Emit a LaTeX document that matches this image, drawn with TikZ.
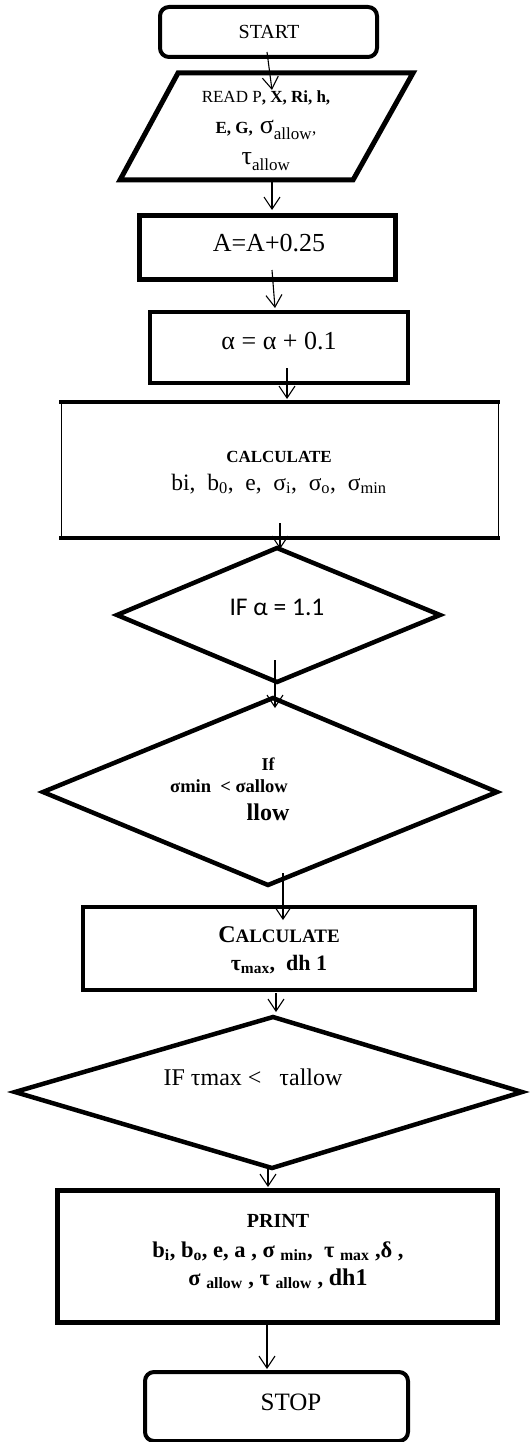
\documentclass[tikz,border=0pt]{standalone}
\usepackage{fontspec}
\setmainfont{Liberation Serif}
\newfontfamily\calibrifont{Carlito}
\usetikzlibrary{arrows.meta}
\newcommand{\fs}[1]{\fontsize{#1}{#1}\selectfont}
\begin{document}
\begin{tikzpicture}[x=1pt,y=-1pt,
  boxline/.style={line width=4.5pt, line join=miter},
  conn/.style={line width=1.1pt, -{Straight Barb[length=12pt,width=16pt,line width=1.1pt]}},
  txt/.style={inner sep=0pt, anchor=base, align=center}]
\useasboundingbox (0,0) rectangle (530,1442);
% shapes
\draw[line width=4pt, rounded corners=9pt] (160,7) rectangle (377,57);
\draw[boxline, line width=5pt] (178,73) -- (413,73) -- (353,180) -- (120,180) -- cycle;
\draw[boxline, line width=5pt] (139,215) rectangle (395,279);
\draw[boxline] (150,312) rectangle (408,383);
\draw[line width=1pt] (61,402) -- (61,538) (498,402) -- (498,538);
\draw[line width=4pt] (59,402) -- (500,402) (59,538) -- (500,538);
\draw[boxline] (277,548) -- (440,615) -- (277,682) -- (117,615) -- cycle;
\draw[boxline] (273,698) -- (497,792) -- (268,885) -- (43,792) -- cycle;
\draw[boxline, line width=4pt] (83,907) rectangle (475,990);
\draw[boxline] (273,1017) -- (522,1092) -- (272,1168) -- (15,1092) -- cycle;
\draw[boxline, line width=5pt] (57,1190) rectangle (497,1322);
\draw[line width=4pt, rounded corners=9pt] (145,1372) rectangle (408,1441);
% texts
\node[txt, font=\fs{20}] (tstart) at (269,39) {START};
\node[txt, font=\fs{17}] (tread1) at (266,103) {READ P\textbf{, X, Ri, h,}};
\node[txt, font=\fs{17}] (tread2) at (266,134) {\textbf{E, G,}\, {\fs{26}σ}\textsubscript{\fs{17}allow},};
\node[txt, font=\fs{17}] (tread3) at (266,165) {{\fs{26}τ}\textsubscript{\fs{17}allow}};
\node[txt, font=\fs{26}] (tA) at (269,251) {A=A+0.25};
\node[txt, font=\fs{26}] (talpha) at (279,349) {α = α + 0.1};
\node[txt, font=\fs{17}\bfseries] (tcalc1a) at (279,462) {CALCULATE};
\node[txt, font=\fs{23.5}] (tcalc1b) at (279,490) {bi,\ \ b\textsubscript{0},\ \ e,\ \ σ\textsubscript{i},\ \ σ\textsubscript{o},\ \ σ\textsubscript{min}};
\node[txt, font=\calibrifont\fs{25.5}] (tif1) at (277,615) {IF α = 1.1};
\node[txt, font=\fs{18}\bfseries] (tif2a) at (268,770) {If};
\node[txt, font=\fs{18.5}\bfseries] (tif2b) at (229,792) {σmin\ \ < σallow};
\node[txt, font=\fs{24}\bfseries] (tif2c) at (268,820) {llow};
\node[txt, font=\bfseries] (tcalc2a) at (279,942) {{\fs{24}C}{\fs{19}ALCULATE}};
\node[txt, font=\fs{22}\bfseries] (tcalc2b) at (279,970) {τ\textsubscript{max},\ \ dh 1};
\node[txt, font=\fs{24}] (tif3) at (253,1085) {IF τmax <\ \ \ τallow};
\node[txt, font=\fs{20}\bfseries] (tprint1) at (278,1227) {PRINT};
\node[txt, font=\fs{22.5}\bfseries] (tprint2) at (278,1257) {b\textsubscript{i}, b\textsubscript{o}, e, a , σ \textsubscript{min},\ \ τ \textsubscript{max} ,δ ,};
\node[txt, font=\fs{22.5}\bfseries] (tprint3) at (278,1285) {σ \textsubscript{allow} , τ \textsubscript{allow} , {\fs{24}dh1}};
\node[txt, font=\fs{25}] (tstop) at (291,1410) {STOP};
% connector end points
\coordinate (c1s) at (267,52);  \coordinate (c1e) at (272,90);
\coordinate (c2s) at (272,180); \coordinate (c2e) at (272,210);
\coordinate (c3s) at (272,270); \coordinate (c3e) at (275,308);
\coordinate (c4s) at (287,368); \coordinate (c4e) at (287,399);
\coordinate (c5s) at (280,523); \coordinate (c5e) at (280,549);
\coordinate (c6s) at (275,660); \coordinate (c6e) at (275,708);
\coordinate (c7s) at (283,873); \coordinate (c7e) at (283,920);
\coordinate (c8s) at (276,993); \coordinate (c8e) at (276,1012);
\coordinate (c9s) at (268,1168); \coordinate (c9e) at (268,1187);
\coordinate (c10s) at (267,1322); \coordinate (c10e) at (267,1369);
\draw[conn] (c1s) -- (c1e);
\draw[conn] (c2s) -- (c2e);
\draw[conn] (c3s) -- (c3e);
\draw[conn] (c4s) -- (c4e);
\draw[conn] (c5s) -- (c5e);
\draw[conn] (c6s) -- (c6e);
\draw[conn] (c7s) -- (c7e);
\draw[conn] (c8s) -- (c8e);
\draw[conn] (c9s) -- (c9e);
\draw[conn] (c10s) -- (c10e);
\end{tikzpicture}
\end{document}
